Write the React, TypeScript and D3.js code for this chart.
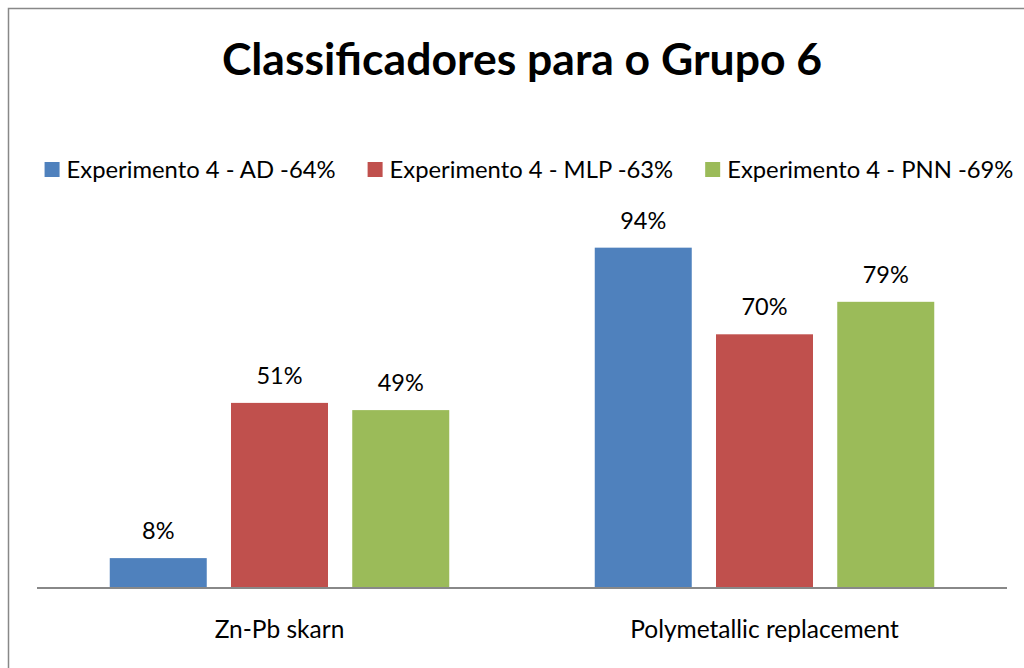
import React, { useEffect, useRef } from 'react';
import * as d3 from 'd3';

const categories = ['Zn-Pb skarn', 'Polymetallic replacement'];
const seriesKeys = ['ad', 'mlp', 'pnn'];
const seriesNames = ['Experimento 4 - AD -64%', 'Experimento 4 - MLP -63%', 'Experimento 4 - PNN -69%'];
const adValues = [8, 94];
const mlpValues = [51, 70];
const pnnValues = [49, 79];
const colors = ['#4F81BD', '#C0504D', '#9BBB59'];

const FONT = 'Lato, "Open Sans", sans-serif';

const App = () => {
  const ref = useRef<SVGSVGElement | null>(null);

  useEffect(() => {
    const svg = d3.select(ref.current);
    svg.selectAll('*').remove();

    const values = [adValues, mlpValues, pnnValues];
    const data = categories.map((c, i) => ({
      cat: c,
      vals: seriesKeys.map((k, s) => ({ key: k, value: values[s][i] })),
    }));

    const x0 = d3.scaleBand().domain(categories).range([37, 1007]);
    const x1 = d3.scaleBand().domain(seriesKeys).range([0, x0.bandwidth()]).paddingInner(0.2).paddingOuter(0.6);
    const y = d3.scaleLinear().domain([0, 100]).range([587, 226]);
    const z = d3.scaleOrdinal<string, string>().domain(seriesKeys).range(colors);

    // chart frame (cut off at right/bottom like the source picture)
    svg.append('rect')
      .attr('x', 8.5).attr('y', 8.5)
      .attr('width', 1100).attr('height', 700)
      .attr('fill', '#fff')
      .attr('stroke', '#888').attr('stroke-width', 1.5);

    // title
    svg.append('text')
      .attr('x', 522).attr('y', 75)
      .attr('text-anchor', 'middle')
      .attr('font-family', FONT)
      .attr('font-weight', 700)
      .attr('font-size', 44.5)
      .attr('fill', '#000')
      .text('Classificadores para o Grupo 6');

    // bars
    const groups = svg.append('g')
      .selectAll('g')
      .data(data)
      .enter()
      .append('g')
      .attr('transform', (d) => 'translate(' + x0(d.cat) + ',0)');

    groups.selectAll('rect')
      .data((d) => d.vals)
      .enter()
      .append('rect')
      .attr('x', (d) => x1(d.key) as number)
      .attr('width', x1.bandwidth())
      .attr('y', (d) => y(d.value))
      .attr('height', (d) => y(0) - y(d.value))
      .attr('fill', (d) => z(d.key));

    groups.selectAll('text')
      .data((d) => d.vals)
      .enter()
      .append('text')
      .attr('x', (d) => (x1(d.key) as number) + x1.bandwidth() / 2)
      .attr('y', (d) => y(d.value) - 19)
      .attr('text-anchor', 'middle')
      .attr('font-family', FONT)
      .attr('font-size', 23.5)
      .attr('fill', '#000')
      .text((d) => d.value + '%');

    // x axis
    svg.append('line')
      .attr('x1', x0.range()[0]).attr('x2', x0.range()[1])
      .attr('y1', y(0) + 1).attr('y2', y(0) + 1)
      .attr('stroke', '#888').attr('stroke-width', 2);

    svg.append('g')
      .selectAll('text')
      .data(categories)
      .enter()
      .append('text')
      .attr('x', (d) => (x0(d) as number) + x0.bandwidth() / 2)
      .attr('y', 638)
      .attr('text-anchor', 'middle')
      .attr('font-family', FONT)
      .attr('font-size', 24.5)
      .attr('fill', '#000')
      .text((d) => d);

    // legend, laid out from measured text widths
    const legend = svg.append('g');
    const items = legend.selectAll('g')
      .data(seriesKeys)
      .enter()
      .append('g');
    items.append('rect')
      .attr('width', 15).attr('height', 15)
      .attr('y', 162)
      .attr('fill', (d) => z(d));
    const labels = items.append('text')
      .attr('x', 22)
      .attr('y', 178)
      .attr('font-family', FONT)
      .attr('font-size', 23.8)
      .attr('fill', '#000')
      .text((d, i) => seriesNames[i]);

    const widths: number[] = [];
    labels.each(function () {
      widths.push(22 + (this as SVGTextElement).getComputedTextLength());
    });
    const gap = 32;
    const total = d3.sum(widths) + gap * (widths.length - 1);
    let cx = 529 - total / 2;
    items.attr('transform', (d, i) => {
      const t = 'translate(' + cx + ',0)';
      cx += widths[i] + gap;
      return t;
    });
  }, []);

  return (
    <svg
      ref={ref}
      width={1024}
      height={668}
      style={{ position: 'absolute', left: 0, top: 0, background: '#fff' }}
    />
  );
};

export default App;
